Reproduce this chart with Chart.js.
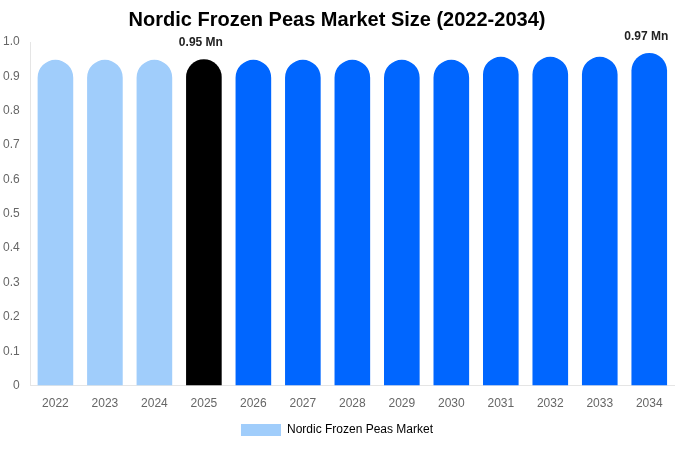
<!DOCTYPE html>
<html><head><meta charset="utf-8">
<script src="https://cdn.jsdelivr.net/npm/chart.js@4"></script>
<style>body{margin:0;background:#fff}#wrap{width:680px;height:450px}</style>
</head><body><div id="wrap"><canvas id="c"></canvas></div>
<script>
const years = ["2022","2023","2024","2025","2026","2027","2028","2029","2030","2031","2032","2033","2034"];
const values = [0.948,0.948,0.948,0.95,0.948,0.948,0.948,0.948,0.948,0.957,0.957,0.957,0.968];
const colors = ["#a0cdfb","#a0cdfb","#a0cdfb","#000000","#0066ff","#0066ff","#0066ff","#0066ff","#0066ff","#0066ff","#0066ff","#0066ff","#0066ff"];
const labelAt = {3:"0.95 Mn",12:"0.97 Mn"};

const topLabels = {
    id:"topLabels",
    afterDatasetsDraw(chart){
        const ctx = chart.ctx, meta = chart.getDatasetMeta(0);
        ctx.save();
        ctx.font = "bold 12px 'Liberation Sans',Arial,sans-serif";
        ctx.fillStyle = "#222";
        ctx.textAlign = "center";
        ctx.textBaseline = "bottom";
        for(const i in labelAt){
            const el = meta.data[i];
            ctx.fillText(labelAt[i], el.x - 3, el.y - 10);
        }
        ctx.restore();
    }
};

new Chart(document.getElementById("c"),{
    type:"bar",
    data:{labels:years,datasets:[{label:"Nordic Frozen Peas Market",data:values,
        backgroundColor:colors,borderRadius:{topLeft:18,topRight:18},borderSkipped:"bottom",
        categoryPercentage:0.72,barPercentage:1}]},
    options:{responsive:true,maintainAspectRatio:false,animation:false,
        layout:{padding:{left:0,right:6,top:0,bottom:4}},
        plugins:{
            title:{display:true,text:"Nordic Frozen Peas Market Size (2022-2034)",
                font:{size:20,weight:"bold",family:"'Liberation Sans',Arial,sans-serif"},color:"#000",padding:{top:8,bottom:10}},
            legend:{position:"bottom",labels:{boxWidth:40,boxHeight:12,color:"#666",
                font:{size:12,family:"'Liberation Sans',Arial,sans-serif"},
                generateLabels:()=>[{text:"Nordic Frozen Peas Market",fillStyle:"#a0cdfb",strokeStyle:"#a0cdfb",lineWidth:0}]}},
            tooltip:{enabled:false}
        },
        scales:{
            x:{grid:{display:false},ticks:{color:"#666",font:{size:12,family:"'Liberation Sans',Arial,sans-serif"}}},
            y:{min:0,max:1,grid:{display:false},border:{display:true,color:"#e5e5e5"},
               ticks:{stepSize:0.1,color:"#666",font:{size:12,family:"'Liberation Sans',Arial,sans-serif"},
                 callback:v=>v===0?"0":v.toFixed(1)}}
        }},
    plugins:[topLabels]
});
</script></body></html>
